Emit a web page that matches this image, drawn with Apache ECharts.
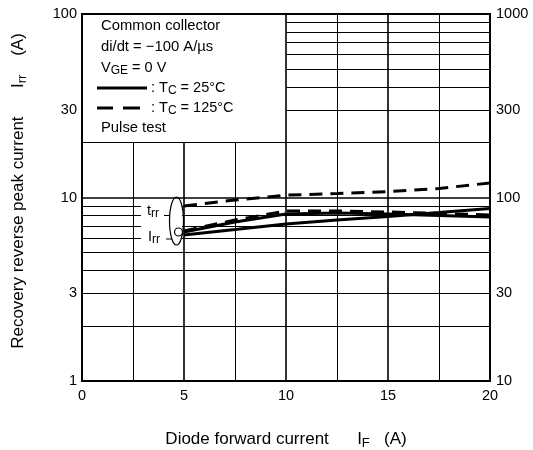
<!DOCTYPE html>
<html><head><meta charset="utf-8">
<script src="https://cdn.jsdelivr.net/npm/echarts@6/dist/echarts.min.js"></script>
<style>html,body{margin:0;padding:0;background:#fff}#c{width:533px;height:450px}</style>
</head><body><div id="c"></div>
<script>
const FONT = '"Liberation Sans", Arial, Helvetica, sans-serif';

// ---- data ----
const forwardCurrent = [5, 7.5, 10, 12.5, 15, 17.5, 20];        // I_F (A)
const trr125 = [89.9, 96.9, 103, 105, 107.6, 112, 120];          // t_rr (ns), Tc = 125°C
const trr25  = [62.5, 66.9, 71.7, 75.4, 78.8, 82.8, 87.1];       // t_rr (ns), Tc = 25°C
const irr125 = [6.57, 7.54, 8.44, 8.44, 8.34, 8.18, 8.03];       // I_rr (A), Tc = 125°C
const irr25  = [6.49, 7.35, 8.13, 8.23, 8.13, 7.98, 7.83];       // I_rr (A), Tc = 25°C

// ---- tick labels ----
const leftTickLabels  = [1, 3, 10, 30, 100];
const rightTickLabels = [10, 30, 100, 300, 1000];

// ---- grid lines (data units) ----
const vLinesLower = [2.5, 5, 7.5];           // from 1 to 20
const vLinesFull  = [10, 12.5, 15, 17.5];    // from 1 to 100
const hLinesFull  = [2, 3, 4, 5, 6, 7, 8, 9, 10, 20];   // from 0 to 20
const hLinesUpper = [30, 40, 50, 60, 70, 80, 90];       // from 10 to 20
const majorV = [5, 10, 15];
const majorH = [10];

const pairs = (xs, ys) => xs.map((x, i) => [x, ys[i]]);

const gridLineData = [];
const thin = 1, thick = 1.6;
vLinesLower.forEach(x => gridLineData.push([{coord: [x, 1], lineStyle: {width: majorV.includes(x) ? thick : thin}}, {coord: [x, 20]}]));
vLinesFull.forEach(x => gridLineData.push([{coord: [x, 1], lineStyle: {width: majorV.includes(x) ? thick : thin}}, {coord: [x, 100]}]));
hLinesFull.forEach(y => gridLineData.push([{coord: [0, y], lineStyle: {width: majorH.includes(y) ? thick : thin}}, {coord: [20, y]}]));
hLinesUpper.forEach(y => gridLineData.push([{coord: [10, y]}, {coord: [20, y]}]));

const tickLabelStyle = {show: true, color: '#000', fontSize: 14.5, fontFamily: FONT, formatter: p => String(p.value)};

const chart = echarts.init(document.getElementById('c'), null, {renderer: 'canvas'});

const curveLine = (dashed) => ({color: '#000', width: 3, type: dashed ? [13, 8] : 'solid', cap: 'butt'});
const nameRich = {
  n: {fontSize: 17, fontFamily: FONT, color: '#000'},
  s: {fontSize: 13, fontFamily: FONT, color: '#000', padding: [8, 0, 0, 0]}
};
const subRich = {n: {fontSize: 14.5, fontFamily: FONT}, s: {fontSize: 12, fontFamily: FONT, padding: [6, 0, 0, 0]}};

chart.setOption({
  animation: false,
  backgroundColor: '#fff',
  grid: {left: 82, right: 43, top: 14, bottom: 69, containLabel: false, outerBoundsMode: 'none',
    show: true, borderColor: '#000', borderWidth: 2, backgroundColor: 'transparent'},
  xAxis: {
    type: 'value', min: 0, max: 20, interval: 5,
    axisLine: {show: false}, axisTick: {show: false}, splitLine: {show: false},
    axisLabel: {color: '#000', fontSize: 14.5, fontFamily: FONT, margin: 7},
    name: '{n|Diode forward current      I}{s|F}{n|   (A)}',
    nameLocation: 'middle', nameGap: 48,
    nameTextStyle: {rich: nameRich}
  },
  yAxis: [{
    type: 'log', logBase: 10, min: 1, max: 100, position: 'left',
    axisLine: {show: false}, axisTick: {show: false}, splitLine: {show: false}, axisLabel: {show: false},
    name: '{n|Recovery reverse peak current      I}{s|rr}{n|    (A)}',
    nameLocation: 'middle', nameGap: 53,
    nameTextStyle: {padding: [0, 0, 0, 13], rich: nameRich}
  }, {
    type: 'log', logBase: 10, min: 10, max: 1000, position: 'right',
    axisLine: {show: false}, axisTick: {show: false}, splitLine: {show: false}, axisLabel: {show: false}
  }],
  series: [
    {
      name: 'grid', type: 'line', data: [], yAxisIndex: 0, clip: false, z: 1, silent: true,
      markLine: {silent: true, symbol: ['none', 'none'], label: {show: false}, animation: false,
        lineStyle: {color: '#000', width: thin, type: 'solid'}, data: gridLineData},
      markPoint: {silent: true, symbol: 'circle', symbolSize: 0.1, itemStyle: {color: 'rgba(0,0,0,0)'}, animation: false,
        label: Object.assign({position: 'left', distance: 5}, tickLabelStyle),
        data: leftTickLabels.map(v => ({coord: [0, v], value: v}))}
    },
    {
      name: 'rightLabels', type: 'line', data: [], yAxisIndex: 1, clip: false, z: 1, silent: true,
      markPoint: {silent: true, symbol: 'circle', symbolSize: 0.1, itemStyle: {color: 'rgba(0,0,0,0)'}, animation: false,
        label: Object.assign({position: 'right', distance: 6}, tickLabelStyle),
        data: rightTickLabels.map(v => ({coord: [20, v], value: v}))}
    },
    {name: 'trr 125°C', type: 'line', yAxisIndex: 1, data: pairs(forwardCurrent, trr125), symbol: 'none', z: 3, lineStyle: curveLine(true)},
    {name: 'trr 25°C',  type: 'line', yAxisIndex: 1, data: pairs(forwardCurrent, trr25),  symbol: 'none', z: 3, lineStyle: curveLine(false)},
    {name: 'Irr 125°C', type: 'line', yAxisIndex: 0, data: pairs(forwardCurrent, irr125), symbol: 'none', z: 3, lineStyle: curveLine(true)},
    {name: 'Irr 25°C',  type: 'line', yAxisIndex: 0, data: pairs(forwardCurrent, irr25),  symbol: 'none', z: 3, lineStyle: curveLine(false)}
  ],
  graphic: [
    // legend block
    {type: 'text', x: 101, y: 26, z: 10, style: {text: 'Common collector', fontSize: 14.8, fontFamily: FONT, fill: '#000', verticalAlign: 'middle'}},
    {type: 'text', x: 101, y: 47, z: 10, style: {text: 'di/dt = \u2212100 A/\u00b5s', fontSize: 14.8, fontFamily: FONT, fill: '#000', verticalAlign: 'middle'}},
    {type: 'text', x: 101, y: 68, z: 10, style: {text: '{n|V}{s|GE}{n| = 0 V}', verticalAlign: 'middle', fill: '#000', rich: subRich}},
    {type: 'line', z: 10, shape: {x1: 97, y1: 88, x2: 147, y2: 88}, style: {stroke: '#000', lineWidth: 3}},
    {type: 'text', x: 151, y: 88, z: 10, style: {text: '{n|: T}{s|C}{n| = 25\u00b0C}', verticalAlign: 'middle', fill: '#000', rich: subRich}},
    {type: 'line', z: 10, shape: {x1: 97, y1: 108, x2: 113, y2: 108}, style: {stroke: '#000', lineWidth: 3}},
    {type: 'line', z: 10, shape: {x1: 123, y1: 108, x2: 140, y2: 108}, style: {stroke: '#000', lineWidth: 3}},
    {type: 'text', x: 151, y: 108, z: 10, style: {text: '{n|: T}{s|C}{n| = 125\u00b0C}', verticalAlign: 'middle', fill: '#000', rich: subRich}},
    {type: 'text', x: 101, y: 128, z: 10, style: {text: 'Pulse test', fontSize: 14.8, fontFamily: FONT, fill: '#000', verticalAlign: 'middle'}},
    // trr / Irr annotation
    {type: 'rect', z: 10, shape: {x: 141, y: 200, width: 41, height: 49}, style: {fill: '#fff'}},
    {type: 'text', x: 147, y: 211, z: 11, style: {text: '{n|t}{s|rr}', verticalAlign: 'middle', fill: '#000', rich: subRich}},
    {type: 'text', x: 148, y: 237, z: 11, style: {text: '{n|I}{s|rr}', verticalAlign: 'middle', fill: '#000', rich: subRich}},
    {type: 'line', z: 11, shape: {x1: 164, y1: 215.5, x2: 170, y2: 215.5}, style: {stroke: '#000', lineWidth: 1}},
    {type: 'line', z: 11, shape: {x1: 166, y1: 239, x2: 172, y2: 239}, style: {stroke: '#000', lineWidth: 1}},
    {type: 'ellipse', z: 11, shape: {cx: 176.5, cy: 221, rx: 7, ry: 24}, style: {fill: 'none', stroke: '#000', lineWidth: 1.2}},
    {type: 'circle', z: 11, shape: {cx: 178.5, cy: 232, r: 4}, style: {fill: 'none', stroke: '#000', lineWidth: 1.2}}
  ]
});
</script>
</body></html>
